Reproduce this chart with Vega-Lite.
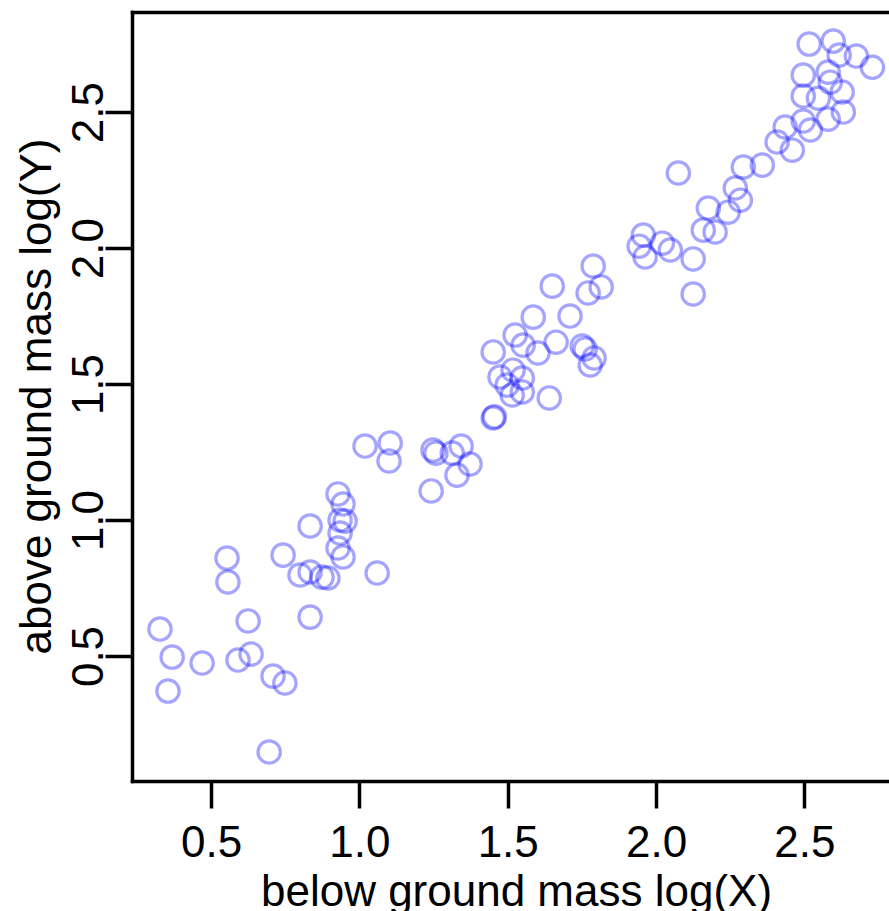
{
  "$schema": "https://vega.github.io/schema/vega-lite/v6.json",
  "autosize": {"type": "none"},
  "padding": {"left": 132, "top": 12, "right": 0, "bottom": 130},
  "width": 757,
  "height": 769,
  "background": "white",
  "config": {
    "view": {"stroke": null},
    "font": "Liberation Sans",
    "axis": {
      "labelFont": "Liberation Sans",
      "titleFont": "Liberation Sans",
      "labelFontSize": 44,
      "titleFontSize": 44,
      "labelColor": "black",
      "titleColor": "black",
      "titleFontWeight": "normal",
      "domainColor": "black",
      "domainWidth": 3.5,
      "domainCap": "square",
      "tickColor": "black",
      "tickWidth": 3.5,
      "tickSize": 27,
      "grid": false
    }
  },
  "data": {
    "values": [
      {"x": 0.328, "y": 0.599}, {"x": 0.369, "y": 0.496}, {"x": 0.355, "y": 0.371}, {"x": 0.470, "y": 0.474},
      {"x": 0.554, "y": 0.860}, {"x": 0.557, "y": 0.772}, {"x": 0.591, "y": 0.485}, {"x": 0.625, "y": 0.629},
      {"x": 0.635, "y": 0.507}, {"x": 0.709, "y": 0.426}, {"x": 0.749, "y": 0.401}, {"x": 0.696, "y": 0.147},
      {"x": 0.743, "y": 0.871}, {"x": 0.800, "y": 0.798}, {"x": 0.834, "y": 0.809}, {"x": 0.874, "y": 0.790},
      {"x": 0.894, "y": 0.787}, {"x": 0.834, "y": 0.978}, {"x": 0.834, "y": 0.643}, {"x": 0.928, "y": 1.096},
      {"x": 0.945, "y": 1.059}, {"x": 0.935, "y": 1.000}, {"x": 0.952, "y": 0.996}, {"x": 0.935, "y": 0.952},
      {"x": 0.928, "y": 0.897}, {"x": 0.945, "y": 0.864}, {"x": 1.060, "y": 0.805}, {"x": 1.019, "y": 1.272},
      {"x": 1.104, "y": 1.283}, {"x": 1.100, "y": 1.217}, {"x": 1.248, "y": 1.257}, {"x": 1.258, "y": 1.246},
      {"x": 1.313, "y": 1.246}, {"x": 1.343, "y": 1.272}, {"x": 1.373, "y": 1.206}, {"x": 1.329, "y": 1.165},
      {"x": 1.242, "y": 1.107}, {"x": 1.451, "y": 1.375}, {"x": 1.455, "y": 1.380}, {"x": 1.640, "y": 1.449},
      {"x": 1.474, "y": 1.526}, {"x": 1.518, "y": 1.551}, {"x": 1.549, "y": 1.522}, {"x": 1.515, "y": 1.460},
      {"x": 1.549, "y": 1.471}, {"x": 1.498, "y": 1.496}, {"x": 1.451, "y": 1.618}, {"x": 1.525, "y": 1.680},
      {"x": 1.552, "y": 1.643}, {"x": 1.602, "y": 1.614}, {"x": 1.586, "y": 1.746}, {"x": 1.663, "y": 1.654},
      {"x": 1.710, "y": 1.750}, {"x": 1.751, "y": 1.640}, {"x": 1.761, "y": 1.629}, {"x": 1.791, "y": 1.596},
      {"x": 1.778, "y": 1.570}, {"x": 1.650, "y": 1.860}, {"x": 1.771, "y": 1.835}, {"x": 1.815, "y": 1.857},
      {"x": 1.788, "y": 1.934}, {"x": 1.957, "y": 2.048}, {"x": 1.943, "y": 2.007}, {"x": 1.963, "y": 1.967},
      {"x": 2.021, "y": 2.018}, {"x": 2.048, "y": 1.993}, {"x": 2.125, "y": 1.960}, {"x": 2.125, "y": 1.831},
      {"x": 2.075, "y": 2.276}, {"x": 2.159, "y": 2.066}, {"x": 2.199, "y": 2.059}, {"x": 2.176, "y": 2.147},
      {"x": 2.243, "y": 2.132}, {"x": 2.267, "y": 2.221}, {"x": 2.284, "y": 2.176}, {"x": 2.294, "y": 2.298},
      {"x": 2.358, "y": 2.305}, {"x": 2.408, "y": 2.390}, {"x": 2.459, "y": 2.360}, {"x": 2.435, "y": 2.445},
      {"x": 2.496, "y": 2.467}, {"x": 2.520, "y": 2.434}, {"x": 2.580, "y": 2.474}, {"x": 2.631, "y": 2.500},
      {"x": 2.496, "y": 2.559}, {"x": 2.547, "y": 2.551}, {"x": 2.627, "y": 2.574}, {"x": 2.587, "y": 2.610},
      {"x": 2.580, "y": 2.647}, {"x": 2.496, "y": 2.636}, {"x": 2.516, "y": 2.750}, {"x": 2.597, "y": 2.761},
      {"x": 2.617, "y": 2.710}, {"x": 2.675, "y": 2.706}, {"x": 2.729, "y": 2.665}
    ]
  },
  "resolve": {"axis": {"x": "independent"}},
  "layer": [
    {
      "mark": {"type": "point", "shape": "circle", "filled": false, "stroke": "#0000ff", "strokeOpacity": 0.5, "strokeWidth": 3.2, "size": 500, "clip": true},
      "encoding": {
        "x": {
          "field": "x", "type": "quantitative",
          "scale": {"domain": [0.2337, 2.785], "nice": false, "zero": false},
          "axis": {
            "orient": "bottom",
            "values": [0.5, 1.0, 1.5, 2.0, 2.5],
            "format": ".1f",
            "labelPadding": 13,
            "labelBaseline": "top",
            "labelFlush": false,
            "labelOverlap": false,
            "title": "below ground mass log(X)",
            "titleBaseline": "alphabetic",
            "titleAlign": "center",
            "titleX": 384,
            "titleY": 124
          }
        },
        "y": {
          "field": "y", "type": "quantitative",
          "scale": {"domain": [0.0404, 2.868], "nice": false, "zero": false},
          "axis": {
            "orient": "left",
            "values": [0.5, 1.0, 1.5, 2.0, 2.5],
            "format": ".1f",
            "labelAngle": 270,
            "labelAlign": "center",
            "labelBaseline": "alphabetic",
            "labelPadding": 3,
            "labelFlush": false,
            "labelOverlap": false,
            "title": "above ground mass log(Y)",
            "titleAngle": 270,
            "titleBaseline": "alphabetic",
            "titleAlign": "center",
            "titleX": -82,
            "titleY": 384
          }
        }
      }
    },
    {
      "mark": {"type": "point", "opacity": 0},
      "encoding": {
        "x": {
          "field": "x", "type": "quantitative",
          "axis": {"orient": "top", "labels": false, "ticks": false, "title": null, "domain": true}
        }
      }
    }
  ]
}
